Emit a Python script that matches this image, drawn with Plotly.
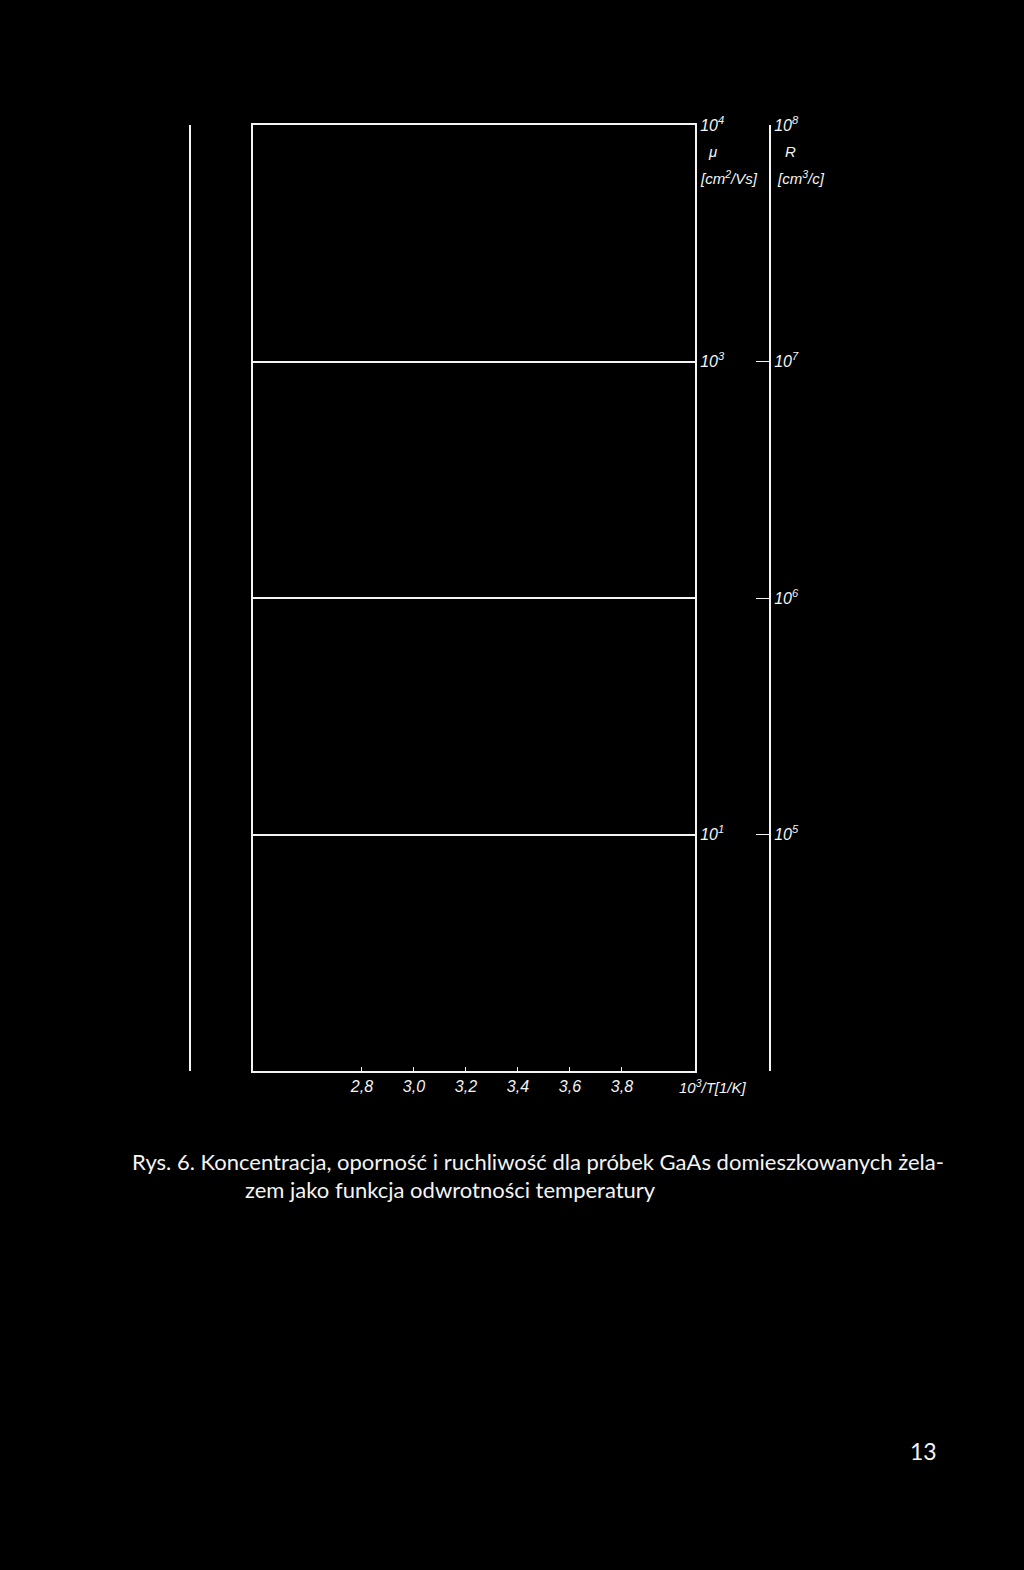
import plotly.graph_objects as go

# x axis: 10^3/T [1/K]
x_ticks = [2.8, 3.0, 3.2, 3.4, 3.6, 3.8]
x_labels = ["2,8", "3,0", "3,2", "3,4", "3,6", "3,8"]
x_range = [2.381, 4.081]

# mobility axis (log, cm2/Vs)
mu_ticks = [10, 100, 1000, 10000]
mu_labels = ["10<sup>1</sup>", " ", "10<sup>3</sup>", "10<sup>4</sup>"]
mu_range_log = [0, 4]

# Hall coefficient axis (log, cm3/C)
r_ticks = [1e5, 1e6, 1e7, 1e8]
r_labels = ["10<sup>5</sup>", "10<sup>6</sup>", "10<sup>7</sup>", "10<sup>8</sup>"]
r_range_log = [4, 8]

caption_1 = "Rys. 6. Koncentracja, oporność i ruchliwość dla próbek GaAs domieszkowanych żela-"
caption_2 = "zem jako funkcja odwrotności temperatury"
page_no = "13"

W, H = 1024, 1570
WHITE = "#f4f4f4"
tick_font = dict(family="Liberation Sans", size=16, color=WHITE, style="italic")


def px(x):
    return x / W


def py(y):
    return 1 - y / H


fig = go.Figure()
# the scan carries no curves, only the frame; empty traces keep the axes alive
fig.add_trace(go.Scatter(x=[], y=[], xaxis="x", yaxis="y", showlegend=False))
fig.add_trace(go.Scatter(x=[], y=[], xaxis="x", yaxis="y2", showlegend=False))
fig.add_trace(go.Scatter(x=[], y=[], xaxis="x", yaxis="y3", showlegend=False))

fig.update_layout(
    width=W,
    height=H,
    margin=dict(l=0, r=0, t=0, b=0, autoexpand=False),
    paper_bgcolor="black",
    plot_bgcolor="black",
    showlegend=False,
    xaxis=dict(
        domain=[px(253), px(695)],
        range=x_range,
        tickvals=x_ticks,
        ticktext=x_labels,
        tickfont=tick_font,
        ticks="inside",
        ticklen=4,
        tickcolor=WHITE,
        showline=True,
        mirror=True,
        linecolor=WHITE,
        linewidth=2,
        showgrid=False,
        zeroline=False,
    ),
    yaxis=dict(
        domain=[py(1071), py(125)],
        type="log",
        range=mu_range_log,
        side="right",
        tickvals=mu_ticks,
        ticktext=mu_labels,
        tickfont=tick_font,
        ticks="inside",
        ticklen=12,
        tickcolor=WHITE,
        showline=True,
        mirror=True,
        linecolor=WHITE,
        linewidth=2,
        showgrid=True,
        gridcolor=WHITE,
        gridwidth=2,
        zeroline=False,
    ),
    yaxis2=dict(
        type="log",
        range=r_range_log,
        overlaying="y",
        anchor="free",
        position=px(770),
        side="right",
        tickvals=r_ticks,
        ticktext=r_labels,
        tickfont=tick_font,
        ticks="inside",
        ticklen=13,
        tickcolor=WHITE,
        showline=True,
        linecolor=WHITE,
        linewidth=2,
        showgrid=False,
        zeroline=False,
    ),
    yaxis3=dict(
        overlaying="y",
        anchor="free",
        position=px(190),
        side="left",
        showticklabels=False,
        ticks="",
        showline=True,
        linecolor=WHITE,
        linewidth=2,
        showgrid=False,
        zeroline=False,
    ),
)


def note(x, y, text, font, xanchor="center"):
    fig.add_annotation(x=px(x), y=py(y), xref="paper", yref="paper", text=text,
                       showarrow=False, xanchor=xanchor, yanchor="middle", font=font)


label_font = dict(family="Liberation Sans", size=15, color=WHITE, style="italic")
note(712, 152, "μ", label_font)
note(698, 178, "[cm<sup>2</sup>/Vs]", label_font, "left")
note(790, 152, "R", label_font)
note(775, 178, "[cm<sup>3</sup>/c]", label_font, "left")
note(677, 1086, "10<sup>3</sup>/T[1/K]", label_font, "left")

cap_font = dict(family="Lato", size=22, color=WHITE)
note(130, 1161, caption_1, cap_font, "left")
note(243, 1189, caption_2, cap_font, "left")
note(923, 1451, page_no, dict(family="Lato", size=23, color=WHITE))

fig.write_html("out.html", config={"displayModeBar": False},
               post_script="document.body.style.margin='0';")
